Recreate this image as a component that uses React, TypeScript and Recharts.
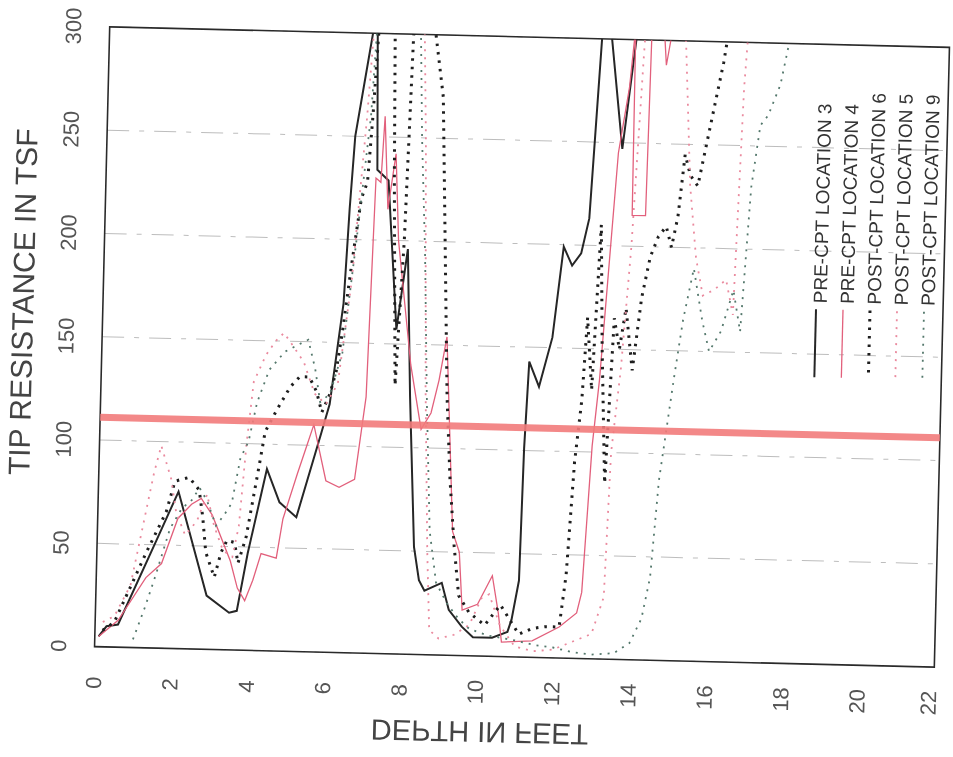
import React from 'react';
import {
  LineChart,
  Line,
  XAxis,
  YAxis,
  CartesianGrid,
  ReferenceLine,
  ReferenceArea,
  Legend,
} from 'recharts';

// ---- axis ticks ----
const depthTicks = [0, 2, 4, 6, 8, 10, 12, 14, 16, 18, 20, 22];
const tsfTicks = [0, 50, 100, 150, 200, 250, 300];
const limitTsf = 111;

// ---- PRE-CPT LOCATION 3 ----
const loc3Depth = [0.1, 0.3, 0.6, 1.55, 2.1, 2.9, 3.5, 3.7, 3.95, 4.4, 4.75, 5.2, 5.8, 6.0, 6.3, 6.4, 6.5, 6.9, 7.0, 7.1, 7.4, 7.7, 7.95, 8.1, 8.3, 8.45, 8.6, 9.05, 9.25, 9.6, 9.9, 10.4, 10.8, 10.9, 11.07, 11.12, 11.2, 11.47, 11.79, 12.03, 12.26, 12.49, 12.68, 12.9, 13.0, 13.1, 13.5, 13.8, 14.0];
const loc3Tsf = [5, 10, 11, 52, 76, 26, 18, 19, 47, 88, 72, 65, 106, 120, 169, 215, 250, 300, 320, 234, 229, 157, 196, 125, 52, 36, 31, 35, 22, 14, 9, 9, 12, 18, 37, 101, 143, 131, 155, 199, 190, 196, 213, 300, 330, 310, 247, 300, 330];

// ---- PRE-CPT LOCATION 4 ----
const loc4Depth = [0.1, 0.6, 1.3, 1.7, 2.1, 2.45, 2.7, 3.0, 3.5, 3.7, 3.9, 4.1, 4.3, 4.7, 4.85, 5.2, 5.4, 5.6, 5.95, 6.3, 6.7, 6.95, 7.07, 7.2, 7.27, 7.4, 7.58, 7.7, 7.9, 8.1, 8.41, 8.66, 8.85, 9.03, 9.3, 9.49, 9.6, 10.0, 10.37, 10.55, 10.65, 11.45, 12.15, 12.6, 12.72, 12.9, 13.05, 13.4, 13.65, 13.75, 13.77, 13.8, 14.15, 14.2, 14.3, 14.5, 14.55, 14.6, 14.7, 14.8];
const loc4Tsf = [5, 13, 34, 41, 63, 70, 73, 65, 43, 30, 24, 34, 47, 45, 64, 86, 98, 110, 83, 80, 84, 124, 230, 228, 260, 215, 242, 200, 170, 140, 109, 117, 133, 154, 60, 50, 22, 25, 39, 21, 7, 8, 15, 22, 32, 103, 135, 245, 277, 300, 330, 215, 215, 300, 330, 330, 300, 288, 300, 330];

// ---- POST-CPT LOCATION 6 ----
const loc6Depth = [0.2, 0.5, 0.87, 1.29, 1.79, 2.0, 2.37, 2.64, 2.75, 2.85, 3.09, 3.25, 3.4, 3.6, 3.7, 3.9, 4.19, 4.33, 4.63, 4.96, 5.2, 5.45, 5.65, 5.8, 6.0, 6.15, 6.3, 6.5, 6.7, 6.85, 6.95, 7.05, 7.1, 7.45, 7.55, 7.7, 7.85, 8.0, 8.5, 8.55, 8.78, 9.07, 9.2, 9.35, 9.5, 9.78, 10.2, 10.6, 11.1, 11.45, 11.8, 12.15, 12.3, 12.45, 12.6, 12.7, 12.85, 13.0, 13.1, 13.25, 13.4, 13.55, 13.7, 13.9, 14.1, 14.3, 14.5, 14.7, 14.85, 15.0, 15.15, 15.3, 15.5, 15.7, 15.9, 16.1, 16.25];
const loc6Tsf = [8, 12, 28, 46, 66, 81, 83, 77, 64, 47, 35, 47, 53, 52, 42, 55, 89, 106, 117, 128, 133, 133, 126, 116, 125, 136, 157, 190, 220, 228, 260, 300, 330, 330, 230, 130, 200, 330, 330, 300, 270, 125, 85, 53, 29, 21, 15, 25, 11, 14, 15, 15, 40, 95, 125, 165, 130, 210, 150, 85, 165, 150, 170, 140, 175, 195, 205, 210, 200, 215, 245, 235, 230, 250, 270, 290, 310];

// ---- POST-CPT LOCATION 5 ----
const loc5Depth = [0.2, 0.5, 0.9, 1.2, 1.45, 1.62, 1.9, 2.05, 2.3, 2.6, 2.85, 3.05, 3.3, 3.55, 3.7, 3.85, 4.0, 4.3, 4.55, 4.76, 5.0, 5.3, 5.6, 5.9, 6.2, 6.5, 6.8, 6.92, 7.0, 8.2, 8.35, 8.5, 8.65, 8.75, 9.0, 9.4, 9.8, 10.1, 10.3, 10.6, 11.0, 11.5, 12.0, 12.5, 13.0, 13.3, 13.4, 13.6, 13.8, 14.0, 14.1, 15.0, 15.1, 15.3, 15.5, 15.7, 16.0, 16.3, 16.5, 16.65, 16.8];
const loc5Tsf = [12, 15, 30, 60, 85, 98, 82, 66, 55, 62, 75, 60, 48, 45, 60, 100, 130, 143, 150, 154, 148, 140, 125, 120, 130, 180, 260, 300, 330, 330, 250, 130, 50, 12, 8, 10, 15, 28, 30, 15, 5, 3, 4, 8, 12, 30, 100, 140, 200, 290, 330, 330, 300, 230, 195, 177, 180, 185, 168, 278, 330];

// ---- POST-CPT LOCATION 9 ----
const loc9Depth = [1.0, 1.3, 1.55, 1.9, 2.2, 2.45, 2.65, 2.85, 3.1, 3.3, 3.5, 3.7, 3.9, 4.1, 4.4, 4.8, 5.1, 5.4, 5.6, 5.75, 6.0, 6.3, 6.6, 6.9, 7.0, 7.1, 8.1, 8.25, 8.4, 8.55, 8.7, 8.9, 9.2, 9.5, 9.8, 10.3, 11.0, 11.5, 12.0, 12.5, 13.0, 13.6, 14.0, 14.3, 14.5, 14.67, 15.0, 15.2, 15.45, 15.7, 15.9, 16.2, 16.5, 16.7, 16.9, 17.1, 17.3, 17.6, 17.8, 18.0];
const loc9Tsf = [4, 20, 35, 58, 68, 72, 78, 72, 60, 65, 71, 93, 101, 120, 136, 145, 148, 151, 137, 121, 125, 145, 200, 260, 300, 330, 330, 250, 195, 120, 60, 35, 25, 18, 13, 10, 8, 6, 5, 3, 2, 3, 8, 20, 40, 87, 137, 165, 190, 165, 150, 160, 180, 160, 230, 260, 265, 280, 300, 330];

const toPoints = (d: number[], v: number[]) => d.map((x, i) => ({ depth: x, tsf: v[i] }));

const FONT = '"Liberation Sans", Arial, Helvetica, sans-serif';

const series = [
  { name: 'PRE-CPT LOCATION 3', data: toPoints(loc3Depth, loc3Tsf), color: '#262626', width: 2, dash: undefined as string | undefined },
  { name: 'PRE-CPT LOCATION 4', data: toPoints(loc4Depth, loc4Tsf), color: '#e2607c', width: 1.3, dash: undefined as string | undefined },
  { name: 'POST-CPT LOCATION 6', data: toPoints(loc6Depth, loc6Tsf), color: '#1e1e1e', width: 3, dash: '2.5 6' },
  { name: 'POST-CPT LOCATION 5', data: toPoints(loc5Depth, loc5Tsf), color: '#ea8a9e', width: 1.8, dash: '2 6' },
  { name: 'POST-CPT LOCATION 9', data: toPoints(loc9Depth, loc9Tsf), color: '#54786c', width: 1.8, dash: '2 6' },
];

const XTick = (props: any) => {
  const { x, y, payload } = props;
  const ty = y + 36;
  return (
    <text x={x} y={ty} transform={`rotate(-90 ${x} ${ty})`} textAnchor="middle" dominantBaseline="central"
      fontSize={22} fill="#555" fontFamily={FONT}>{payload.value}</text>
  );
};

const YTick = (props: any) => {
  const { x, y, payload } = props;
  const tx = x - 36;
  return (
    <text x={tx} y={y} transform={`rotate(-90 ${tx} ${y})`} textAnchor="middle" dominantBaseline="central"
      fontSize={22} fill="#555" fontFamily={FONT}>{payload.value}</text>
  );
};

const XTitle = (props: any) => {
  const vb = props.viewBox || { x: 94, y: 649, width: 840, height: 60 };
  const cx = vb.x + vb.width / 2 - 33;
  const cy = vb.y + 76;
  return (
    <text transform={`translate(${cx} ${cy}) scale(1 -1)`} x={0} y={0} textAnchor="middle" dominantBaseline="central"
      fontSize={29} fill="#444" fontFamily={FONT}>DEPTH IN FEET</text>
  );
};

const YTitle = (props: any) => {
  const vb = props.viewBox || { x: 34, y: 29, width: 60, height: 620 };
  const cx = vb.x - 20;
  const cy = vb.y + 277;
  return (
    <text x={cx} y={cy} transform={`rotate(-90 ${cx} ${cy})`} textAnchor="middle" dominantBaseline="central"
      fontSize={30} fill="#444" fontFamily={FONT}>TIP RESISTANCE IN TSF</text>
  );
};

const renderLegend = (props: any) => {
  const payload = [...(props.payload || [])].sort(
    (a: any, b: any) => series.findIndex((s) => s.name === a.value) - series.findIndex((s) => s.name === b.value),
  );
  return (
    <svg width={160} height={320} style={{ overflow: 'visible', display: 'block' }}>
      {payload.map((p: any, i: number) => {
        const x = 27 + i * 27;
        const s = series.find((t) => t.name === p.value) || series[i];
        return (
          <g key={s.name}>
            <line x1={x} y1={234} x2={x} y2={302} stroke={s.color} strokeWidth={s.width} strokeDasharray={s.dash} />
            <text x={x + 4} y={228} transform={`rotate(-90 ${x + 4} 228)`} dominantBaseline="central"
              fontSize={19} fill="#333" fontFamily={FONT}>{s.name}</text>
          </g>
        );
      })}
    </svg>
  );
};

export default function App() {
  return (
    <div style={{ position: 'fixed', left: 8, top: 8, width: 937, height: 741, background: '#fff' }}>
      <div style={{ width: 937, height: 741, transform: 'rotate(1.4deg)', transformOrigin: '514px 339px' }}>
        <LineChart width={937} height={741} margin={{ top: 29, right: 3, bottom: 32, left: 34 }} style={{ overflow: 'visible' }}>
          <CartesianGrid vertical={false} stroke="#bdbdbd" strokeDasharray="22 10 5 10" />
          <XAxis type="number" dataKey="depth" domain={[0, 22]} ticks={depthTicks} height={60}
            axisLine={false} tickLine={false} tickSize={0} tickMargin={0} tick={<XTick />}
            allowDataOverflow label={<XTitle />} />
          <YAxis type="number" dataKey="tsf" domain={[0, 300]} ticks={tsfTicks} width={60}
            axisLine={false} tickLine={false} tickSize={0} tickMargin={0} tick={<YTick />}
            allowDataOverflow label={<YTitle />} />
          {series.map((s) => (
            <Line key={s.name} data={s.data} dataKey="tsf" name={s.name} type="linear" stroke={s.color}
              strokeWidth={s.width} strokeDasharray={s.dash} dot={false} activeDot={false}
              isAnimationActive={false} />
          ))}
          <ReferenceLine y={limitTsf} stroke="#f27b7b" strokeWidth={7} strokeOpacity={0.9} />
          <ReferenceArea x1={0} x2={22} y1={0} y2={300} fill="none" stroke="#2a2a2a" strokeWidth={1.6} />
          <Legend content={renderLegend} layout="horizontal" verticalAlign="middle" align="center"
            wrapperStyle={{ left: 780, top: 60, width: 160, height: 320 }} />
        </LineChart>
      </div>
    </div>
  );
}
